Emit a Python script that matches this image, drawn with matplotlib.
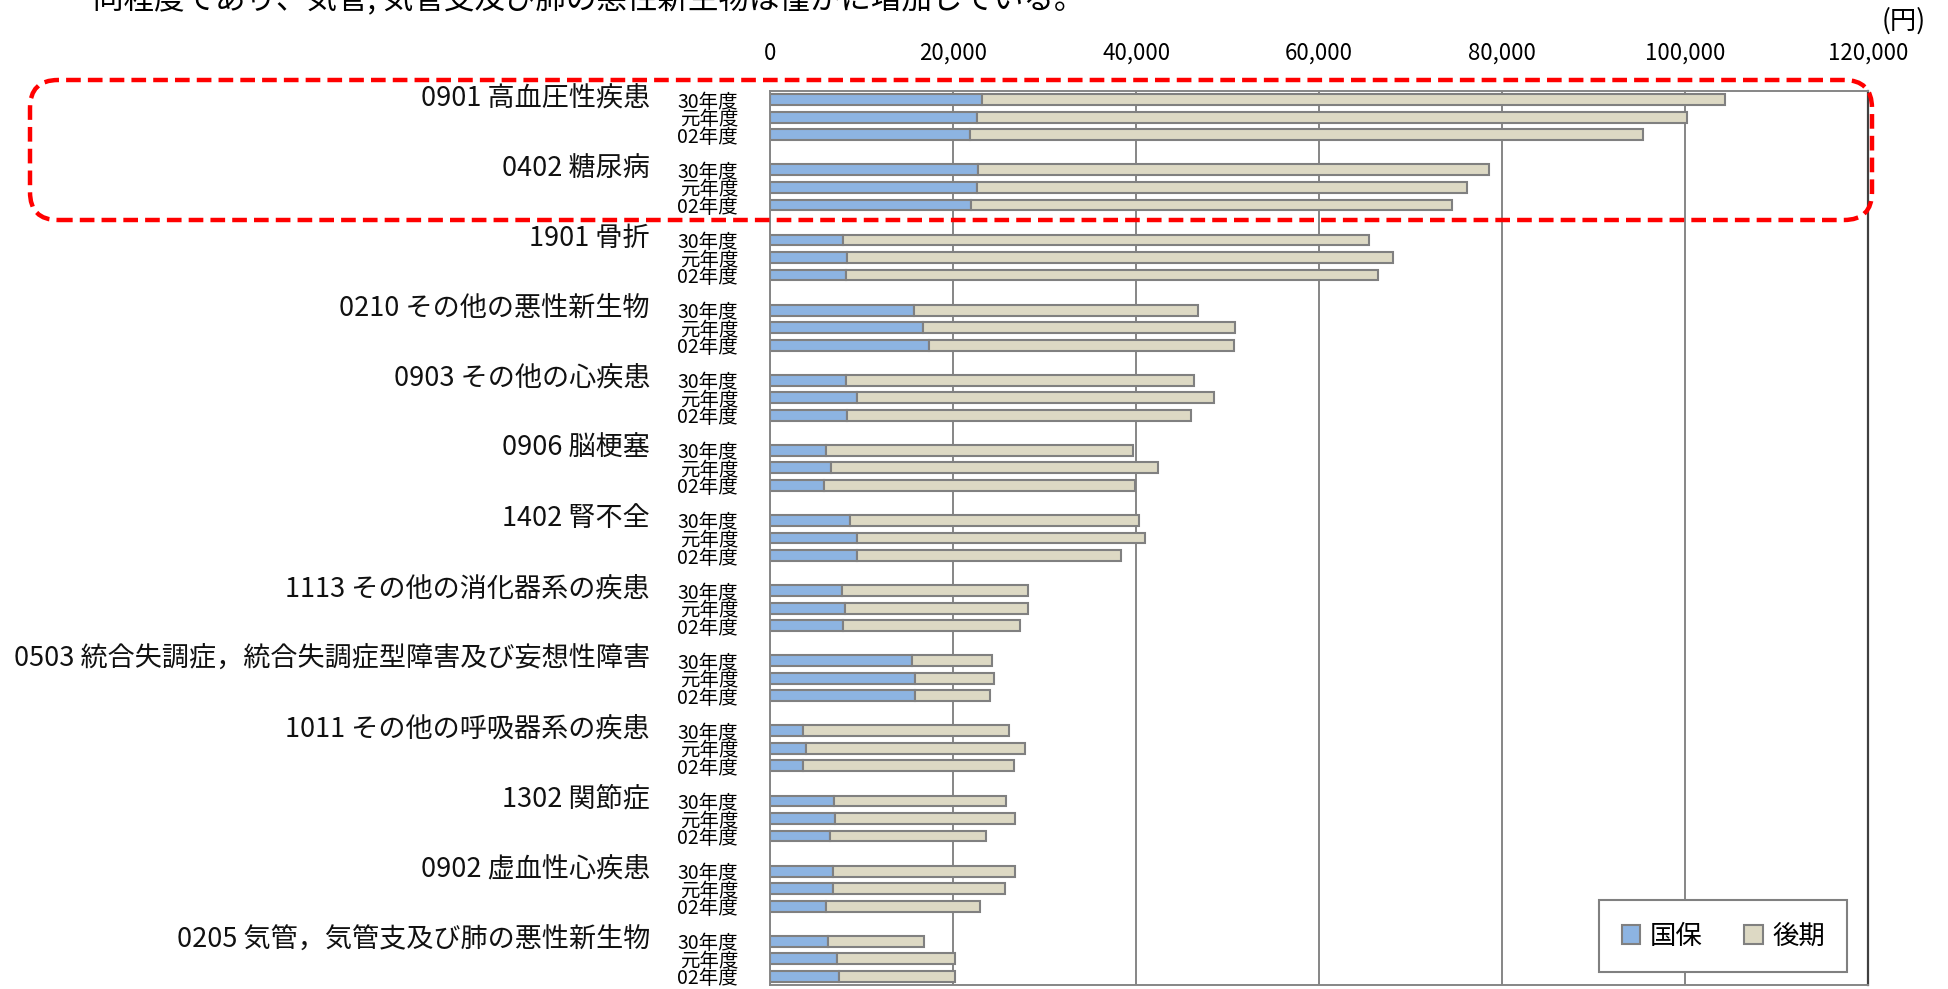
import matplotlib
matplotlib.use('Agg')
import matplotlib.pyplot as plt
import matplotlib.transforms as mtransforms
from matplotlib.patches import Patch, FancyBboxPatch
from matplotlib.ticker import FuncFormatter
import numpy as np

plt.rcParams['font.family'] = ['Noto Sans CJK JP', 'DejaVu Sans']

# 疾病分類 (上から順)
categories = ['0901 高血圧性疾患', '0402 糖尿病', '1901 骨折', '0210 その他の悪性新生物',
              '0903 その他の心疾患', '0906 脳梗塞', '1402 腎不全', '1113 その他の消化器系の疾患',
              '0503 統合失調症，統合失調症型障害及び妄想性障害', '1011 その他の呼吸器系の疾患',
              '1302 関節症', '0902 虚血性心疾患', '0205 気管，気管支及び肺の悪性新生物']
years = ['30年度', '元年度', '02年度']

# 国保 (円) : 各疾病 [30年度, 元年度, 02年度]
kokuho = [[23200, 22650, 21830],
          [22750, 22650, 21920],
          [7960, 8450, 8250],
          [15750, 16700, 17370],
          [8330, 9450, 8380],
          [6070, 6620, 5860],
          [8750, 9480, 9500],
          [7900, 8180, 7930],
          [15530, 15820, 15820],
          [3640, 3890, 3560],
          [6950, 7090, 6580],
          [6910, 6870, 6070],
          [6360, 7310, 7490]]
# 後期 (円)
koki = [[81150, 77550, 73620],
        [55800, 53550, 52650],
        [57470, 59600, 58180],
        [31000, 34150, 33300],
        [37970, 39070, 37590],
        [33630, 35760, 34010],
        [31530, 31450, 28870],
        [20250, 20000, 19420],
        [8760, 8620, 8220],
        [22510, 23930, 23100],
        [18830, 19710, 16990],
        [19820, 18800, 16880],
        [10440, 12870, 12770]]

x_ticks = [0, 20000, 40000, 60000, 80000, 100000, 120000]

c_kokuho = '#8DB4E2'
c_koki = '#DDD9C4'
c_edge = '#808080'

fig = plt.figure(figsize=(19.49, 9.89), dpi=100)
ax = fig.add_axes([0.3951, 0.004, 0.5634, 0.904])

kk = np.array(kokuho).ravel()
kg = np.array(koki).ravel()
pos = np.array([i * 4 + j for i in range(len(categories)) for j in range(len(years))])

ax.barh(pos, kk, height=0.62, color=c_kokuho, edgecolor=c_edge, linewidth=1.5, zorder=2)
ax.barh(pos, kg, left=kk, height=0.62, color=c_koki, edgecolor=c_edge, linewidth=1.5, zorder=2)

ax.set_ylim(len(categories) * 4 - 1.5, -0.5)
ax.set_xlim(0, 120000)
ax.set_xticks(x_ticks)
ax.xaxis.set_major_formatter(FuncFormatter(lambda v, p: '{:,.0f}'.format(v)))
ax.xaxis.tick_top()
ax.tick_params(axis='x', length=0, pad=19, labelsize=16)
ax.grid(axis='x', color='#868686', linewidth=1.4)
ax.set_axisbelow(True)

ax.set_yticks(pos)
ax.set_yticklabels(years * len(categories))
ax.tick_params(axis='y', length=0, pad=23, labelsize=14)

for s in ['left', 'top', 'bottom']:
    ax.spines[s].set_color('#868686')
    ax.spines[s].set_linewidth(1.4)
ax.spines['right'].set_color('#404040')
ax.spines['right'].set_linewidth(1.6)

# 疾病名
trans = mtransforms.blended_transform_factory(fig.transFigure, ax.transData)
for i, cat in enumerate(categories):
    ax.text(650 / 1949, i * 4 - 0.1, cat, transform=trans, ha='right', va='center',
            fontsize=19.5, color='#111111', clip_on=False)

fig.text(1926 / 1949, 1 - 21 / 989, '(円)', ha='right', va='center', fontsize=19)

fig.text(93 / 1949, 1 - 8 / 989, '同程度であり、気管, 気管支及び肺の悪性新生物は僅かに増加している。',
         ha='left', va='baseline', fontsize=22)

handles = [Patch(facecolor=c_kokuho, edgecolor=c_edge, linewidth=1.5, label='国保'),
           Patch(facecolor=c_koki, edgecolor=c_edge, linewidth=1.5, label='後期')]
leg = ax.legend(handles=handles, ncol=2, loc='lower right', bbox_to_anchor=(0.981, 0.0145),
                fontsize=19, frameon=True, fancybox=False, edgecolor='#808080', framealpha=1,
                handlelength=0.7, handleheight=0.7, handletextpad=0.35, columnspacing=1.6,
                borderpad=0.85, borderaxespad=0)
leg.get_frame().set_linewidth(1.5)

# 赤い点線の枠
box = FancyBboxPatch((0.30, 7.69), 18.42, 1.40,
                     boxstyle='round,pad=0,rounding_size=0.28',
                     transform=fig.dpi_scale_trans, fill=False,
                     edgecolor='#FF0000', linewidth=3.2, linestyle=(0, (3.3, 1.6)),
                     zorder=10)
fig.add_artist(box)

fig.savefig('out.png', dpi=100)
